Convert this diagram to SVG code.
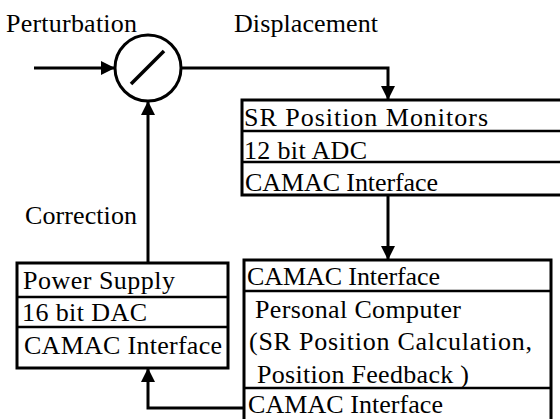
<svg xmlns="http://www.w3.org/2000/svg" width="560" height="419" viewBox="0 0 560 419">
  <style>
    text { font-family: "Liberation Serif", "Times New Roman", serif; font-size: 26px; fill: #000; }
    .box { fill: #fff; stroke: #000; stroke-width: 3; }
    .div { stroke: #000; stroke-width: 2.5; fill: none; }
    .wire { stroke: #000; stroke-width: 3; fill: none; }
  </style>
  <defs>
    <marker id="arrow" viewBox="0 0 14 14" refX="14" refY="7" markerWidth="14" markerHeight="14" markerUnits="userSpaceOnUse" orient="auto">
      <path d="M0,0 L14,7 L0,14 Z" fill="#000"/>
    </marker>
  </defs>

  <rect width="560" height="419" fill="#fff"/>

  <!-- signal labels -->
  <text x="6" y="32" textLength="131">Perturbation</text>
  <text x="234" y="32" textLength="144">Displacement</text>
  <text x="25" y="224" textLength="112">Correction</text>

  <!-- connectors -->
  <g id="connectors">
    <line class="wire" x1="34" y1="68" x2="115" y2="68" marker-end="url(#arrow)"/>
    <polyline class="wire" points="181,68 388,68 388,100" marker-end="url(#arrow)"/>
    <line class="wire" x1="388" y1="195" x2="388" y2="260" marker-end="url(#arrow)"/>
    <line class="wire" x1="148" y1="263" x2="148" y2="101" marker-end="url(#arrow)"/>
    <polyline class="wire" points="244,408 148,408 148,368" marker-end="url(#arrow)"/>
  </g>

  <!-- summing junction -->
  <g id="junction">
    <circle cx="148" cy="68" r="33" fill="#fff" stroke="#000" stroke-width="3"/>
    <line x1="131" y1="84" x2="164" y2="51" stroke="#000" stroke-width="3.5"/>
  </g>

  <!-- SR position monitors -->
  <g id="monitors">
    <rect class="box" x="242" y="100" width="330" height="95"/>
    <line class="div" x1="242" y1="131" x2="572" y2="131"/>
    <line class="div" x1="242" y1="162" x2="572" y2="162"/>
    <text x="244" y="126" textLength="244">SR Position Monitors</text>
    <text x="244" y="159" textLength="123">12 bit ADC</text>
    <text x="245" y="191" textLength="193">CAMAC Interface</text>
  </g>

  <!-- power supply -->
  <g id="power-supply">
    <rect class="box" x="17" y="263" width="211" height="105"/>
    <line class="div" x1="17" y1="297" x2="228" y2="297"/>
    <line class="div" x1="17" y1="327" x2="228" y2="327"/>
    <text x="23" y="289" textLength="152">Power Supply</text>
    <text x="22" y="321" textLength="125">16 bit DAC</text>
    <text x="24" y="354" textLength="198">CAMAC Interface</text>
  </g>

  <!-- personal computer -->
  <g id="computer">
    <rect class="box" x="244" y="260" width="307" height="170"/>
    <line class="div" x1="244" y1="291" x2="551" y2="291"/>
    <line class="div" x1="244" y1="388" x2="551" y2="388"/>
    <text x="247" y="285" textLength="193">CAMAC Interface</text>
    <text x="255" y="318" textLength="206">Personal Computer</text>
    <text x="249" y="350" textLength="283">(SR Position Calculation,</text>
    <text x="257" y="383" textLength="212">Position Feedback )</text>
    <text x="248" y="413" textLength="195">CAMAC Interface</text>
  </g>
</svg>
